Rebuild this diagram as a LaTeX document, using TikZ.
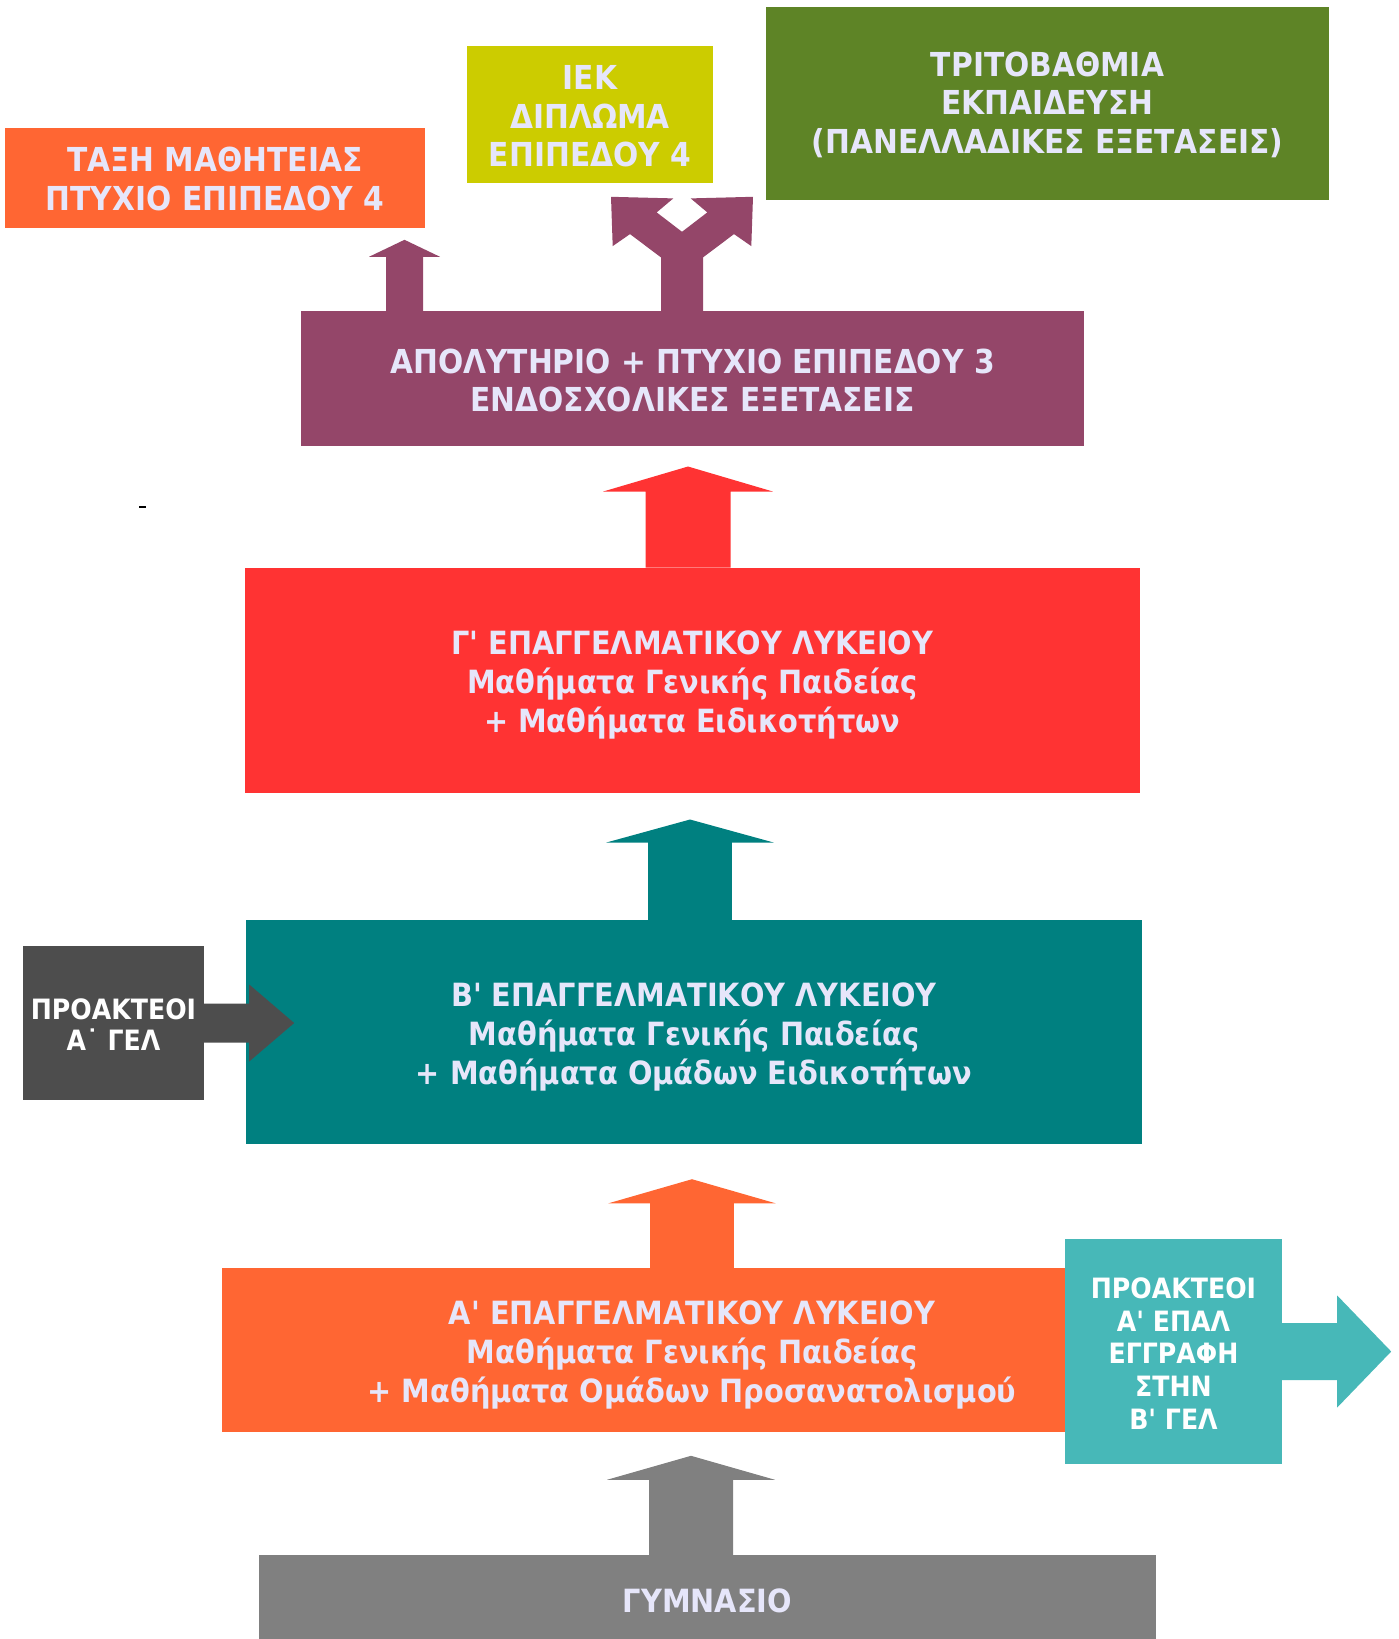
\documentclass[tikz,border=0pt]{standalone}
\usepackage{fontspec}
\newfontfamily\tfont[FakeStretch=0.9]{DejaVu Sans}
\usetikzlibrary{calc}
\definecolor{orng}{RGB}{255,102,51}
\definecolor{yelo}{RGB}{204,204,0}
\definecolor{grn}{RGB}{94,132,38}
\definecolor{purp}{RGB}{148,70,105}
\definecolor{rd}{RGB}{255,51,51}
\definecolor{tl}{RGB}{0,128,128}
\definecolor{dgray}{RGB}{77,77,77}
\definecolor{mgray}{RGB}{128,128,128}
\definecolor{turq}{RGB}{71,184,184}
\definecolor{lav}{RGB}{230,230,250}
% block arrow pointing up: #1 colour, #2 base anchor, #3 x, #4 shaft length, #5 head length, #6 shaft half width, #7 head half width
\newcommand{\blkup}[7]{\fill[#1] (#3,0 |- #2) ++(-#6,0) -- ++(0,-#4) -- ++(#6-#7,0) -- ++(#7,-#5) -- ++(#7,#5) -- ++(#6-#7,0) -- ++(0,#4) -- cycle;}
% block arrow pointing right: #1 colour, #2 base anchor, #3 shaft length, #4 head length, #5 shaft half width, #6 head half width
\newcommand{\blkright}[6]{\fill[#1] (#2) ++(0,-#5) -- ++(#3,0) -- ++(0,#5-#6) -- ++(#4,#6) -- ++(-#4,#6) -- ++(0,#5-#6) -- ++(-#3,0) -- cycle;}
\begin{document}
\begin{tikzpicture}[x=1pt,y=-1pt,
  box/.style={inner sep=0pt},
  txt/.style={inner sep=0pt, align=center, text=lav},
  big/.style={font=\tfont\bfseries\fontsize{32}{39}\selectfont},
  top/.style={font=\tfont\bfseries\fontsize{33}{38.5}\selectfont},
  side/.style={text=white, font=\tfont\bfseries\fontsize{28}{32.7}\selectfont},
]
\useasboundingbox (0,0) rectangle (1399,1639);
\clip (0,0) rectangle (1399,1639);

% top boxes
\node[box, fill=orng, minimum width=420pt, minimum height=100pt] (taxi) at (215,178) {};
\node[txt, top] (taxi-t) at ([yshift=-1pt]taxi.center) {ΤΑΞΗ ΜΑΘΗΤΕΙΑΣ\\ΠΤΥΧΙΟ ΕΠΙΠΕΔΟΥ 4};
\node[box, fill=yelo, minimum width=246pt, minimum height=137pt] (iek) at (590,114.5) {};
\node[txt, top] (iek-t) at ([yshift=-2pt]iek.center) {ΙΕΚ\\ΔΙΠΛΩΜΑ\\ΕΠΙΠΕΔΟΥ 4};
\node[box, fill=grn, minimum width=563pt, minimum height=193pt] (trit) at (1047.5,103.5) {};
\node[txt, top] (trit-t) at ([yshift=-1pt]trit.center) {ΤΡΙΤΟΒΑΘΜΙΑ\\ΕΚΠΑΙΔΕΥΣΗ\\(ΠΑΝΕΛΛΑΔΙΚΕΣ ΕΞΕΤΑΣΕΙΣ)};

% purple box
\node[box, fill=purp, minimum width=783pt, minimum height=135pt] (apol) at (692.5,378.5) {};
\node[txt, font=\tfont\bfseries\fontsize{33}{37.5}\selectfont] (apol-t) at ([yshift=-2pt]apol.center) {ΑΠΟΛΥΤΗΡΙΟ + ΠΤΥΧΙΟ ΕΠΙΠΕΔΟΥ 3\\ΕΝΔΟΣΧΟΛΙΚΕΣ ΕΞΕΤΑΣΕΙΣ};

% class boxes
\node[box, fill=rd, minimum width=895pt, minimum height=225pt] (gclass) at (692.2,680.2) {};
\node[txt, big] (gclass-t) at ([yshift=-5pt]gclass.center) {Γ' ΕΠΑΓΓΕΛΜΑΤΙΚΟΥ ΛΥΚΕΙΟΥ\\Μαθήματα Γενικής Παιδείας\\ + Μαθήματα Ειδικοτήτων};
\node[box, fill=tl, minimum width=896pt, minimum height=224pt] (bclass) at (694,1032) {};
\node[txt, big] (bclass-t) at ([yshift=-4.5pt]bclass.center) {Β' ΕΠΑΓΓΕΛΜΑΤΙΚΟΥ ΛΥΚΕΙΟΥ\\Μαθήματα Γενικής Παιδείας\\+ Μαθήματα Ομάδων Ειδικοτήτων};
\node[box, fill=orng, minimum width=941pt, minimum height=164pt] (aclass) at (692,1350) {};
\node[txt, big] (aclass-t) at ([yshift=-5pt]aclass.center) {Α' ΕΠΑΓΓΕΛΜΑΤΙΚΟΥ ΛΥΚΕΙΟΥ\\Μαθήματα Γενικής Παιδείας\\+ Μαθήματα Ομάδων Προσανατολισμού};
\node[box, fill=mgray, minimum width=897pt, minimum height=94pt] (gym) at (707.5,1602) {};
\node[txt, big] (gym-t) at ([yshift=1pt]gym.center) {ΓΥΜΝΑΣΙΟ};

% side boxes
\node[box, fill=dgray, minimum width=181pt, minimum height=154pt] (gel) at (113.5,1023) {};
\node[txt, side, font=\tfont\bfseries\fontsize{28}{31.5}\selectfont] (gel-t) at ([yshift=-1.5pt]gel.center) {ΠΡΟΑΚΤΕΟΙ\\Α˙ ΓΕΛ};
\node[box, fill=turq, minimum width=217pt, minimum height=225pt] (epal) at (1173.5,1351.5) {};
\node[txt, side] (epal-t) at ([yshift=-2pt]epal.center) {ΠΡΟΑΚΤΕΟΙ\\Α' ΕΠΑΛ\\ΕΓΓΡΑΦΗ\\ΣΤΗΝ\\Β' ΓΕΛ};

% block arrows
\blkup{purp}{apol.north}{404.5}{54}{17}{18.5}{35.5}
\blkup{rd}{gclass.north}{688}{76}{25}{42.5}{84.8}
\blkup{tl}{bclass.north}{690}{77.3}{23}{41.8}{83.6}
\blkup{orng}{aclass.north}{692}{64.5}{24.1}{41.8}{83.6}
\blkup{mgray}{gym.north}{691}{75}{24}{42}{84}
\blkright{dgray}{gel.east}{45}{45}{19.5}{38.5}
\blkright{turq}{epal.east}{55}{54}{28.5}{56}

% forked arrow
\coordinate (fork) at (682,0 |- apol.north);
\begin{scope}[shift={(fork)}]
\fill[purp] (-21,0) -- (-21,-53.4) -- (-52,-76.7) -- (-69.3,-64.7) -- (-71,-114) -- (-8.7,-112.4) -- (-25.3,-98.4) -- (0,-79)
  -- (25.3,-98.4) -- (8.7,-112.4) -- (71,-114) -- (69.3,-64.7) -- (52,-76.7) -- (21,-53.4) -- (21,0) -- cycle;
\end{scope}

% stray mark
\draw[line width=1.5pt] (139,507) -- (146,507);
\end{tikzpicture}
\end{document}
